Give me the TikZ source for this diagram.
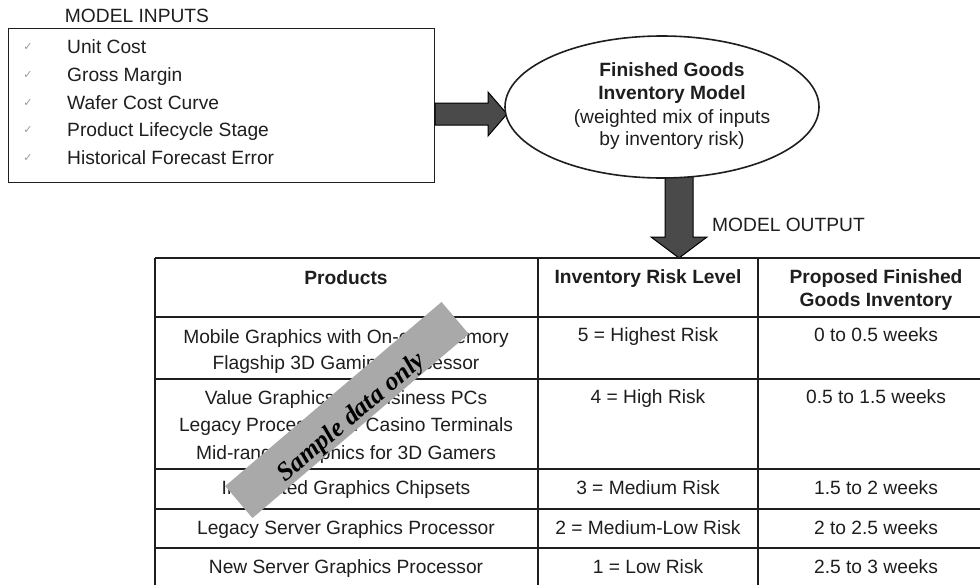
\documentclass[tikz,border=0pt]{standalone}
\usepackage{fontspec}
\setmainfont{Liberation Sans}
\newfontfamily\wmfont{Liberation Serif}
\newfontfamily\symfont{DejaVu Sans}
\usetikzlibrary{shapes.geometric,calc}

\definecolor{ink}{HTML}{1E1E1E}
\definecolor{arrowfill}{HTML}{4A4A4A}
\definecolor{bandfill}{HTML}{A9A9A9}
\definecolor{tickgray}{HTML}{9A9A9A}

\begin{document}
\begin{tikzpicture}[x=1pt,y=-1pt,
  txt/.style={inner sep=0pt, text=ink, anchor=base, font=\fontsize{19.2}{23}\selectfont},
  hdr/.style={txt, font=\bfseries\fontsize{19.2}{23}\selectfont},
  itemtxt/.style={txt, anchor=base west},
  tick/.style={inner sep=0pt, text=tickgray, font=\symfont\fontsize{11}{12}\selectfont},
  blockarrow/.style={draw=black, line width=1pt, fill=arrowfill, line join=miter},
  rule/.style={draw=ink, line width=1.8pt},
  edge/.style={draw=ink, line width=2.6pt}
]
\useasboundingbox (0,0) rectangle (980,584);
\clip (0,0) rectangle (980,584);
\fill[white] (0,0) rectangle (980,584);

% ---------- model inputs ----------
\node[txt] (intitle) at (137,22.9) {MODEL INPUTS};
\node[draw=ink, line width=1.2pt, rectangle, inner sep=0pt,
      minimum width=426, minimum height=154, anchor=north west] (inbox) at (8,28) {};
\foreach \y/\t [count=\i] in {47/Unit Cost, 75/Gross Margin, 103/Wafer Cost Curve,
                              130/Product Lifecycle Stage, 158/Historical Forecast Error}{
  \node[tick] (tk\i) at (28,\y) {✓};
  \node[itemtxt] (in\i) at (67,\y+6.9) {\t};
}

% ---------- model ellipse and arrows ----------
\coordinate (rsrc) at (inbox.east |- 0,114);
\coordinate (rtip) at (507,114);
\draw[blockarrow] ($(rsrc)+(0,-11)$) -- ($(rtip)+(-19,-11)$) -- ($(rtip)+(-19,-22)$)
   -- (rtip) -- ($(rtip)+(-19,22)$) -- ($(rtip)+(-19,11)$) -- ($(rsrc)+(0,11)$) -- cycle;

\coordinate (dsrc) at (679,160);
\coordinate (dtip) at (679,258);
\draw[blockarrow] ($(dsrc)+(-14,0)$) -- ($(dtip)+(-14,-21)$) -- ($(dtip)+(-28,-21)$)
   -- (dtip) -- ($(dtip)+(28,-21)$) -- ($(dtip)+(14,-21)$) -- ($(dsrc)+(14,0)$) -- cycle;

\node[draw=ink, fill=white, line width=1.6pt, ellipse, inner sep=0pt,
      minimum width=314, minimum height=142] (ell) at (662,107) {};
\node[hdr] (m1) at (672,70+6.9)  {Finished Goods};
\node[hdr] (m2) at (672,93+6.9)  {Inventory Model};
\node[txt] (m3) at (672,117+6.9) {(weighted mix of inputs};
\node[txt] (m4) at (672,139+6.9) {by inventory risk)};

\node[txt, anchor=base west] (outtitle) at (712,225+6.9) {MODEL OUTPUT};

% ---------- output table ----------
\coordinate (tl) at (155,258);
\foreach \y in {317,379,469,509,548}{ \draw[rule] (155,\y) -- (1000,\y); }
\draw[rule] (155,258) -- (1000,258);
\draw[rule] (538,258) -- (538,600);
\draw[rule] (758,258) -- (758,600);
\draw[edge] (tl) -- (155,600);

\node[hdr] (h1)  at (346,278+6.9) {Products};
\node[hdr] (h2)  at (648,277+6.9) {Inventory Risk Level};
\node[hdr] (h3a) at (876,277+6.9) {Proposed Finished};
\node[hdr] (h3b) at (876,300+6.9) {Goods Inventory};

\node[txt] (p1a) at (346,337+6.9) {Mobile Graphics with On-chip Memory};
\node[txt] (p1b) at (346,363+6.9) {Flagship 3D Gaming Processor};
\node[txt] (p2a) at (346,398+6.9) {Value Graphics for Business PCs};
\node[txt] (p2b) at (346,425+6.9) {Legacy Processor for Casino Terminals};
\node[txt] (p2c) at (346,453+6.9) {Mid-range Graphics for 3D Gamers};
\node[txt] (p3)  at (346,488+6.9) {Integrated Graphics Chipsets};
\node[txt] (p4)  at (346,528+6.9) {Legacy Server Graphics Processor};
\node[txt] (p5)  at (346,567+6.9) {New Server Graphics Processor};

\node[txt] (r1) at (648,335+6.9) {5 = Highest Risk};
\node[txt] (r2) at (648,397+6.9) {4 = High Risk};
\node[txt] (r3) at (648,488+6.9) {3 = Medium Risk};
\node[txt] (r4) at (648,528+6.9) {2 = Medium-Low Risk};
\node[txt] (r5) at (648,567+6.9) {1 = Low Risk};

\node[txt] (w1) at (876,335+6.9) {0 to 0.5 weeks};
\node[txt] (w2) at (876,397+6.9) {0.5 to 1.5 weeks};
\node[txt] (w3) at (876,488+6.9) {1.5 to 2 weeks};
\node[txt] (w4) at (876,528+6.9) {2 to 2.5 weeks};
\node[txt] (w5) at (876,567+6.9) {2.5 to 3 weeks};

% ---------- diagonal sample band ----------
\node[fill=bandfill, rotate=40.4, inner sep=0pt,
      minimum width=284, minimum height=42] (band) at (347,410) {};
\node[rotate=40.4, inner sep=0pt, text=black,
      font=\wmfont\bfseries\itshape\fontsize{26}{30}\selectfont] (bandtxt) at (352,418) {Sample data only};
\end{tikzpicture}
\end{document}
